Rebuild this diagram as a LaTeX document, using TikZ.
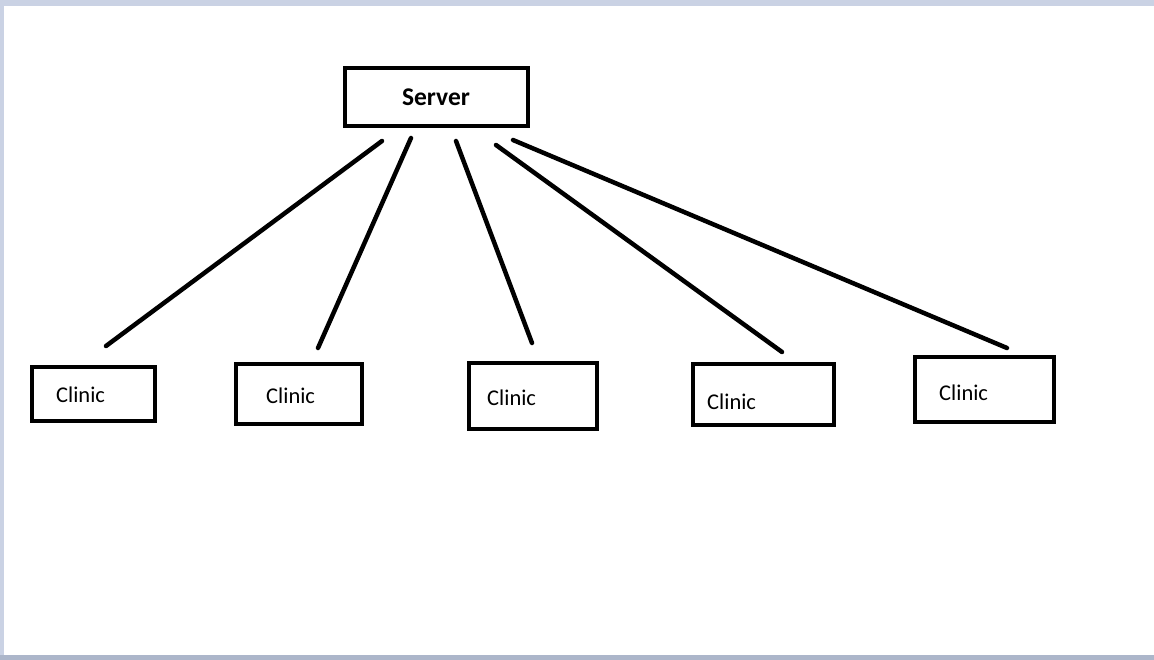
\documentclass[tikz,border=0pt]{standalone}
\usepackage{fontspec}
\setmainfont{Carlito}
\usepackage{tikz}

\definecolor{framebar}{RGB}{202,210,228}
\definecolor{framelow}{RGB}{172,182,202}

\begin{document}
\begin{tikzpicture}[x=1pt,y=-1pt]
        \tikzstyle{box} = [rectangle, draw, line width=4.5pt, inner sep=0pt]
        \tikzstyle{lbl} = [anchor=west, inner sep=0pt, font=\fontsize{22.5}{26}\selectfont]
        \tikzstyle{link} = [line width=4.5pt, line cap=round]
        \useasboundingbox (0,0) rectangle (1154,660);
        % window frame
        \fill[framebar] (0,0) rectangle (1154,6);
        \fill[framebar] (0,0) rectangle (4,660);
        \fill[framelow] (0,655) rectangle (1154,660);

        \node[box, minimum width=183pt, minimum height=58pt] (server) at (436.5,97) {};
        \node[font=\fontsize{25.5}{29}\selectfont\bfseries] (srvtxt) at (436,97) {Server};

        % clinics: name/left/top/right/bottom/text x/text y
        \foreach \i/\l/\t/\r/\b/\tx/\ty in {1/32/367/155/421/56/395, 2/236/364/362/424/266/396,
                3/469/363/597/429/487/398, 4/693/364/834/425/707/402, 5/915/357/1054/422/939/393}
        {
            \node[box, minimum width=\r pt-\l pt, minimum height=\b pt-\t pt] (c\i) at ({(\l+\r)/2},{(\t+\b)/2}) {};
            \node[lbl] (t\i) at (\tx,\ty) {Clinic};
        }

        \foreach \i/\a/\b/\c/\d in {1/382/141/106/346, 2/411/138/318/348, 3/456/141/532/343,
                4/496/145/782/352, 5/513/140/1007/348}
        {
            \coordinate (s\i) at (\a,\b);
            \coordinate (e\i) at (\c,\d);
            \draw[link] (s\i) -- (e\i);
        }
      \end{tikzpicture}
\end{document}
